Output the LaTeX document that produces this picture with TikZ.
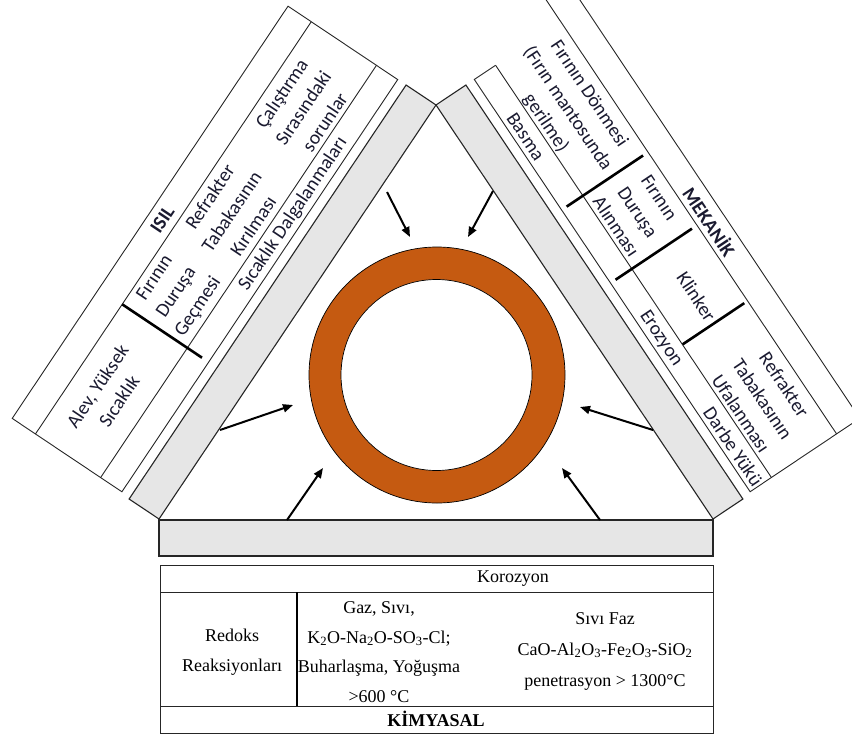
\documentclass[tikz,border=0pt]{standalone}
\usepackage{fontspec}
\setmainfont{Liberation Serif}
\newfontfamily\carlitofont{Carlito}
\usetikzlibrary{arrows.meta}
\definecolor{ringc}{HTML}{C55A11}
\definecolor{barc}{HTML}{E6E6E6}
\definecolor{txtc}{HTML}{1A1A30}
\begin{document}
\begin{tikzpicture}[x=1pt,y=-1pt,
  bar/.style={fill=barc,draw=black!85,line width=1.1pt,line join=miter},
  tbl/.style={draw=black!85,line width=0.9pt},
  divline/.style={draw=black,line width=2.6pt},
  sidetxt/.style={font=\carlitofont\fontsize{19.5}{26}\selectfont,text=txtc,align=center,inner sep=0pt},
  bottxt/.style={font=\fontsize{18}{29.5}\selectfont,align=center,inner sep=0pt},
  arr/.style={-{Triangle[length=10pt,width=8pt]},line width=2pt}]
\useasboundingbox (0,0) rectangle (852,734);
\clip (0,0) rectangle (852,734);

% bars
\draw[bar] (436,105) -- (159,519) -- (129.1,499) -- (406.1,85) -- cycle;
\draw[bar] (436,105) -- (713,519) -- (742.9,499) -- (465.9,85) -- cycle;
\draw[bar] (159,520) rectangle (713,556);

% ring
\node[circle,minimum size=256pt,inner sep=0pt,fill=ringc,draw=black,line width=0.7pt] (ring) at (437,375) {};
\node[circle,minimum size=191pt,inner sep=0pt,fill=white,draw=black,line width=0.7pt] (hole) at (436.5,375) {};

% arrows
\coordinate (a1s) at (387,192); \coordinate (a1e) at (410,237);
\coordinate (a2s) at (493,191); \coordinate (a2e) at (468,237);
\coordinate (a3s) at (220,430); \coordinate (a3e) at (293,405);
\coordinate (a4s) at (653,430); \coordinate (a4e) at (580,407);
\coordinate (a5s) at (287,520); \coordinate (a5e) at (323,468);
\coordinate (a6s) at (600,520); \coordinate (a6e) at (562,468);
\draw[arr] (a1s) -- (a1e);
\draw[arr] (a2s) -- (a2e);
\draw[arr] (a3s) -- (a3e);
\draw[arr] (a4s) -- (a4e);
\draw[arr] (a5s) -- (a5e);
\draw[arr] (a6s) -- (a6e);

% left table (ISIL)
\begin{scope}[shift={(121.9,491.8)},x={(0.5561pt,0.8311pt)},y={(-0.8311pt,0.5561pt)}]
  \draw[tbl] (0,0) -- (496,0) -- (496,132) -- (0,132) -- cycle;
  \draw[tbl] (0,25.6) -- (496,25.6);
  \draw[tbl] (0,104) -- (496,104);
  \draw[divline] (156,104) -- (156,8);
  \node[sidetxt,rotate=56.21,font=\carlitofont\bfseries\fontsize{19.5}{26}\selectfont] (isil) at (249,118) {ISIL};
  \node[sidetxt,rotate=56.21] (alev) at (74,66) {Alev, Yüksek\\Sıcaklık};
  \node[sidetxt,rotate=56.21] (durusagec) at (196,65) {Fırının\\Duruşa\\Geçmesi};
  \node[sidetxt,rotate=56.21] (kirilma) at (294,65) {Refrakter\\Tabakasının\\Kırılması};
  \node[sidetxt,rotate=56.21] (calisma) at (420,63) {Çalıştırma\\Sırasındaki\\sorunlar};
  \node[sidetxt,rotate=56.21] (dalga) at (326,12) {Sıcaklık Dalgalanmaları};
\end{scope}

% right table (MEKANIK)
\begin{scope}[shift={(474.3,79.5)},x={(0.5561pt,-0.8311pt)},y={(0.8311pt,0.5561pt)}]
  \draw[tbl] (-60,132) -- (496,132) -- (496,0) -- (0,0) -- (0,25.6);
  \draw[tbl] (0,25.6) -- (496,25.6);
  \draw[tbl] (-60,104) -- (496,104);
  \draw[divline] (157,6) -- (157,98);
  \draw[divline] (245,6) -- (245,98);
  \draw[divline] (336,26) -- (336,100);
  \node[sidetxt,rotate=-56.21,font=\carlitofont\bfseries\fontsize{19.5}{26}\selectfont] (mekanik) at (249,117) {MEKANİK};
  \node[sidetxt,rotate=-56.21] (donme) at (76,61) {Fırının Dönmesi\\(Fırın mantosunda\\gerilme)};
  \node[sidetxt,rotate=-56.21] (durusaal) at (201,62) {Fırının\\Duruşa\\Alınması};
  \node[sidetxt,rotate=-56.21] (klinker) at (304,64) {Klinker};
  \node[sidetxt,rotate=-56.21] (ufalanma) at (426,62) {Refrakter\\Tabakasının\\Ufalanması};
  \node[sidetxt,rotate=-56.21] (basma) at (76,11) {Basma};
  \node[sidetxt,rotate=-56.21] (erozyon) at (319,11) {Erozyon};
  \node[sidetxt,rotate=-56.21] (darbe) at (449,11) {Darbe Yükü};
\end{scope}

% bottom table (KIMYASAL)
\draw[tbl] (160,565) rectangle (713,733);
\draw[tbl] (160,592) -- (713,592);
\draw[tbl] (160,706) -- (713,706);
\draw[divline] (297,592) -- (297,706);
\node[bottxt] (korozyon) at (513,579) {Korozyon};
\node[bottxt] (redoks) at (232,652) {Redoks\\Reaksiyonları};
\node[bottxt] (gaz) at (379,652) {Gaz, Sıvı,\\K\textsubscript{2}O-Na\textsubscript{2}O-SO\textsubscript{3}-Cl;\\Buharlaşma, Yoğuşma\\>600 °C};
\node[bottxt,font=\fontsize{18}{31}\selectfont] (sivifaz) at (605,651) {Sıvı Faz\\CaO-Al\textsubscript{2}O\textsubscript{3}-Fe\textsubscript{2}O\textsubscript{3}-SiO\textsubscript{2}\\penetrasyon > 1300°C};
\node[bottxt,font=\bfseries\fontsize{18}{22}\selectfont] (kimyasal) at (436,719) {KİMYASAL};
\end{tikzpicture}
\end{document}
